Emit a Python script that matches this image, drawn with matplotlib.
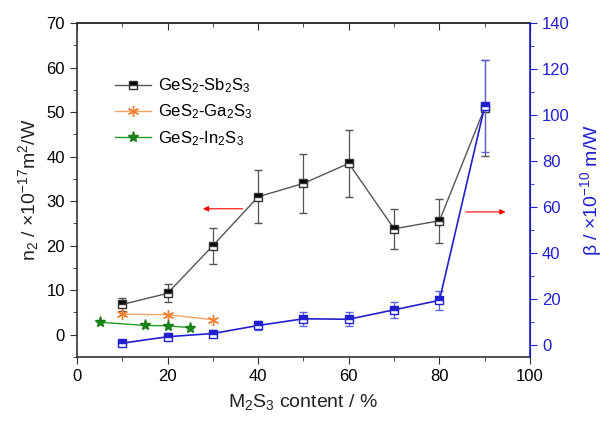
import matplotlib
matplotlib.use("Agg")
import matplotlib.pyplot as plt
from matplotlib.ticker import MultipleLocator
from matplotlib.lines import Line2D

plt.rcParams['font.family'] = ['Liberation Sans', 'DejaVu Sans']
plt.rcParams['mathtext.fontset'] = 'custom'
plt.rcParams['mathtext.rm'] = 'Liberation Sans'
plt.rcParams['mathtext.it'] = 'Liberation Sans'

# data
x_sb = [10, 20, 30, 40, 50, 60, 70, 80, 90]
n2_sb = [6.8, 9.3, 20.0, 31.0, 34.0, 38.5, 23.8, 25.6, 51.0]
n2_sb_err = [1.5, 2.0, 4.0, 6.0, 6.7, 7.6, 4.5, 5.0, 10.8]

x_ga = [10, 20, 30]
n2_ga = [4.6, 4.5, 3.4]

x_in = [5, 15, 20, 25]
n2_in = [2.8, 2.1, 2.0, 1.6]

x_beta = [10, 20, 30, 40, 50, 60, 70, 80, 90]
beta = [1.0, 3.8, 5.2, 8.7, 11.6, 11.4, 15.5, 19.6, 104.0]
beta_err = [1.2, 1.5, 1.5, 1.8, 3.0, 3.0, 3.5, 4.0, 20.0]

fig = plt.figure(figsize=(6.10, 4.21), dpi=100)
ax = fig.add_axes([0.126, 0.152, 0.743, 0.793])
ax2 = ax.twinx()

blue = '#2020d0'
sb_style = dict(color='#555555', lw=1.0, marker='s', ms=6, mfc='black', mec='#333333',
                fillstyle='top', mfcalt='white')
ax.errorbar(x_sb, n2_sb, yerr=n2_sb_err, capsize=3, elinewidth=0.9, ecolor='#555555',
            zorder=3, **sb_style)
h_ga, = ax.plot(x_ga, n2_ga, color='#f4a460', lw=1.0, marker=(6, 2, 0), ms=8, mec='#f08030',
                zorder=3)
h_in, = ax.plot(x_in, n2_in, color='#22a022', lw=1.0, marker='*', ms=8, mfc='#1a8a1a',
                mec='#1a7a1a', zorder=3)
h_sb = Line2D([], [], **sb_style)

ax2.errorbar(x_beta, beta, yerr=beta_err, color=blue, lw=1.2, marker='s', ms=6,
             mfc=blue, mec=blue, fillstyle='top', mfcalt='white', capsize=3,
             elinewidth=0.9, ecolor='#6060e0', zorder=3)

ax.set_xlim(0, 100)
ax.set_ylim(-5, 70)
ax2.set_ylim(-5, 140)

ax.xaxis.set_major_locator(MultipleLocator(20))
ax.xaxis.set_minor_locator(MultipleLocator(10))
ax.yaxis.set_major_locator(MultipleLocator(10))
ax.yaxis.set_minor_locator(MultipleLocator(5))
ax2.yaxis.set_major_locator(MultipleLocator(20))
ax2.yaxis.set_minor_locator(MultipleLocator(10))

ax.tick_params(axis='both', which='major', labelsize=12, length=5, direction='out', color='#333333')
ax.tick_params(axis='both', which='minor', length=3, direction='out', color='#333333')

top = ax.secondary_xaxis('top')
top.xaxis.set_major_locator(MultipleLocator(20))
top.xaxis.set_minor_locator(MultipleLocator(10))
top.tick_params(which='major', direction='in', length=5, labeltop=False, color='#333333')
top.tick_params(which='minor', direction='in', length=3, color='#333333')
top.spines['top'].set_color('#333333')
top.spines['top'].set_linewidth(1.2)

ax2.tick_params(axis='y', which='major', labelsize=12, length=5, colors=blue)
ax2.tick_params(axis='y', which='minor', length=3, colors=blue)
ax2.spines['right'].set_color(blue)
ax2.spines['right'].set_linewidth(1.2)
for s in ['left', 'bottom', 'top']:
    ax.spines[s].set_color('#333333')
    ax.spines[s].set_linewidth(1.2)
ax2.spines['left'].set_visible(False)
ax2.spines['top'].set_visible(False)
ax2.spines['bottom'].set_visible(False)

ax.set_xlabel('M$_2$S$_3$ content / %', fontsize=14, color='#222222', labelpad=6)
ax.set_ylabel('n$_2$ / \u00d710$^{-17}$m$^2$/W', fontsize=14, color='#222222', labelpad=4)
ax2.set_ylabel('\u03b2 / \u00d710$^{-10}$ m/W', fontsize=14, color=blue, labelpad=6)

ax.annotate('', xy=(27.2, 28.3), xytext=(37.2, 28.3),
            arrowprops=dict(arrowstyle='-|>', color='red', lw=0.8, mutation_scale=8))
ax.annotate('', xy=(95.2, 27.6), xytext=(85.2, 27.6),
            arrowprops=dict(arrowstyle='-|>', color='red', lw=0.8, mutation_scale=8))

ax.legend([h_sb, h_ga, h_in],
          ['GeS$_2$-Sb$_2$S$_3$', 'GeS$_2$-Ga$_2$S$_3$', 'GeS$_2$-In$_2$S$_3$'],
          loc='upper left', bbox_to_anchor=(0.05, 0.885), frameon=False,
          fontsize=12, handlelength=2.2, labelspacing=0.45, handletextpad=0.4)

fig.savefig('out.png', dpi=100)
